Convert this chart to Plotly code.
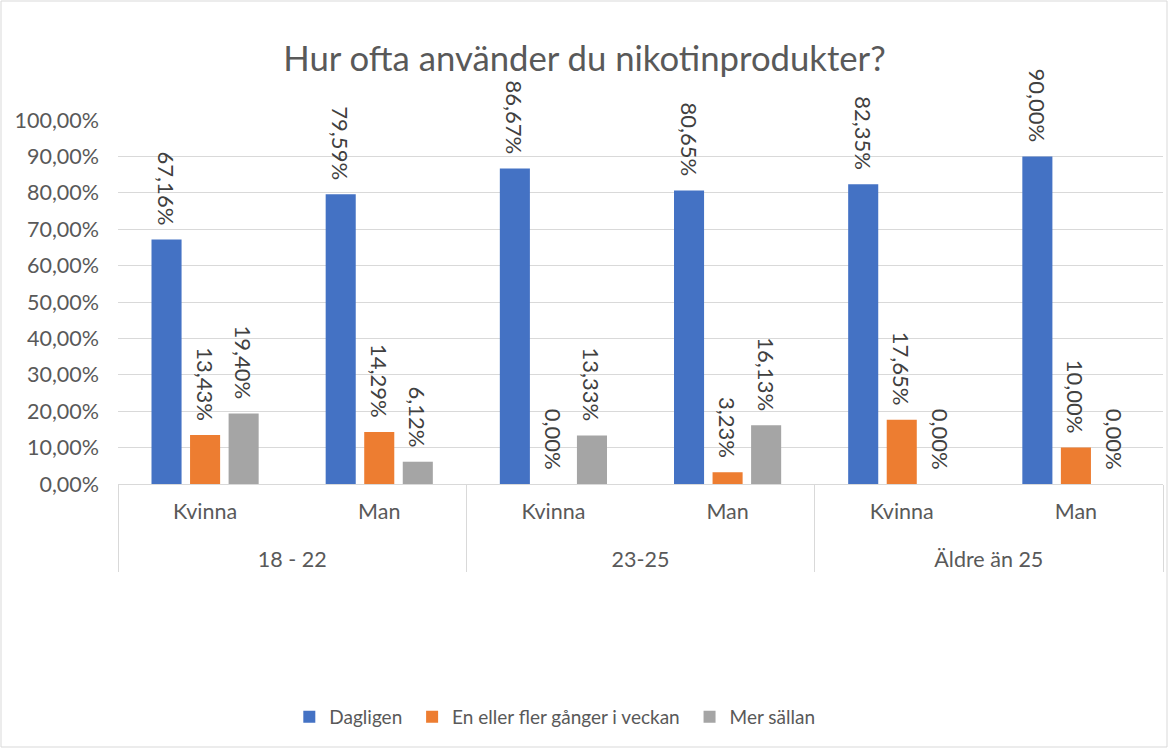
import plotly.graph_objects as go

groups = ["<br>18 - 22", "<br>18 - 22", "<br>23-25", "<br>23-25", "<br>Äldre än 25", "<br>Äldre än 25"]
genders = ["Kvinna", "Man", "Kvinna", "Man", "Kvinna", "Man"]

dagligen = [0.6716, 0.7959, 0.8667, 0.8065, 0.8235, 0.9000]
veckan = [0.1343, 0.1429, 0.0000, 0.0323, 0.1765, 0.1000]
sallan = [0.1940, 0.0612, 0.1333, 0.1613, 0.0000, 0.0000]

nbsp = "\u00a0"
series = [
    ("Dagligen" + nbsp, dagligen, "#4472c4"),
    ("En eller fler gånger i veckan" + nbsp, veckan, "#ed7d31"),
    ("Mer sällan", sallan, "#a5a5a5"),
]

W, H = 1169, 749
L, R, T, B = 118, 6, 120, 265
pw, ph = W - L - R, H - T - B

fig = go.Figure()
for name, vals, col in series:
    fig.add_trace(go.Bar(
        x=[groups, genders], y=vals, name=name,
        marker=dict(color=col, line=dict(width=0)),
        texttemplate="%{y:.2%}" + nbsp * 2, textposition="outside", textangle=90,
        textfont=dict(color="#404040", size=22),
        cliponaxis=False,
    ))

fig.update_layout(
    width=W, height=H,
    margin=dict(l=L, r=R, t=T, b=B, autoexpand=False),
    paper_bgcolor="white", plot_bgcolor="white",
    font=dict(family="Lato", size=21.5, color="#595959"),
    separators=", ",
    title=dict(text="Hur ofta använder du nikotinprodukter?", x=0.5, xanchor="center",
               y=1 - 59 / H, yanchor="middle", font=dict(size=34.7, color="#595959")),
    barmode="group", bargap=0.336, bargroupgap=0.22,
    legend=dict(orientation="h", x=0.418, xanchor="center", y=(484 - 717) / ph,
                yanchor="middle", font=dict(size=19, color="#595959"),
                itemwidth=30, traceorder="normal"),
    uniformtext=dict(minsize=21, mode="show"),
)
fig.update_yaxes(range=[0, 1.0], dtick=0.1, tickformat=".2%", gridcolor="#d9d9d9",
                 zeroline=False, showline=False, ticks="", automargin=False,
                 ticklabelstandoff=18, tickfont=dict(size=21.5))
fig.update_xaxes(type="multicategory", showline=True, linecolor="#d9d9d9",
                 showdividers=True, dividercolor="#d9d9d9", dividerwidth=1,
                 ticks="", automargin=False, ticklabelstandoff=8,
                 tickfont=dict(size=21.5))

# light border around the whole chart
fig.add_shape(type="rect", xref="paper", yref="paper",
              x0=(1 - L) / pw, x1=(W - 2 - L) / pw,
              y0=-(B - 2) / ph, y1=1 + (T - 1) / ph,
              line=dict(color="#d9d9d9", width=1), fillcolor="rgba(0,0,0,0)")

# page body has a default 8px margin; drop it so the figure sits at the corner
fig.write_html("out.html", config={"displayModeBar": False},
               post_script="document.body.style.margin='0';")
